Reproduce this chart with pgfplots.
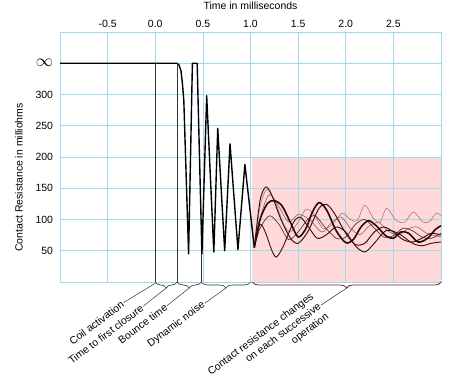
\documentclass[border=0pt]{standalone}
\usepackage{fontspec}
\setmainfont{Liberation Sans}
\usepackage{pgfplots}
\pgfplotsset{compat=1.18}
\usetikzlibrary{calc,decorations.pathreplacing}
\definecolor{gridblue}{RGB}{160,218,236}
\definecolor{pinkfill}{RGB}{255,217,217}
\definecolor{cA}{RGB}{42,6,6}
\definecolor{cB}{RGB}{70,18,18}
\definecolor{cC}{RGB}{55,14,14}
\definecolor{cD}{RGB}{176,118,118}
\definecolor{cE}{RGB}{150,92,92}
\definecolor{cF}{RGB}{105,45,45}
\definecolor{brk}{RGB}{110,35,35}
\begin{document}
\begin{tikzpicture}[font=\fontsize{10.5}{12.6}\selectfont]
\begin{axis}[name=ax, scale only axis, width=381bp, height=250bp,
  xmin=-1, xmax=3, ymin=0, ymax=400, clip=false, set layers,
  xtick={-0.5,0,0.5,1,1.5,2,2.5},
  xticklabels={-0.5,0.0,0.5,1.0,1.5,2.0,2.5},
  ytick={50,100,150,200,250,300,350},
  yticklabels={50,100,150,200,250,300,{\LARGE$\infty$}},
  xticklabel pos=upper,
  grid=major,
  major grid style={gridblue, line width=0.6pt},
  axis line style={gridblue, line width=0.6pt},
  major tick length=0pt, tick style={draw=none},
  xticklabel style={yshift=1bp},
  yticklabel style={xshift=-3.5bp},
  title={Time in milliseconds},
  title style={at={(0.5,1)}, anchor=base, yshift=17bp},
]
% pink region
\addplot[fill=pinkfill, draw=none, on layer=axis background] coordinates {(1.02,200) (3,200)} \closedcycle;

% main bounce curve
\addplot[black, line width=1.4pt, line join=round] coordinates {
(-1,350) (0.23,350) (0.25,347) (0.27,338) (0.285,318) (0.30,290) (0.35,45)
(0.39,350) (0.44,350) (0.49,45) (0.54,298) (0.615,48) (0.656,246)
(0.729,50) (0.785,221) (0.868,52) (0.941,188) (1.04,55)};

% successive-operation curves
\addplot[cD, line width=0.6pt, smooth] coordinates {
(1.04,55) (1.1,120) (1.17,148) (1.25,132) (1.35,92) (1.42,80) (1.5,96) (1.58,116)
(1.66,110) (1.76,86) (1.86,92) (1.96,110) (2.05,100) (2.12,98) (2.2,123) (2.29,102)
(2.36,96) (2.43,118) (2.53,98) (2.62,96) (2.71,112) (2.81,96) (2.88,97) (2.95,110) (3.0,106)};
\addplot[cE, line width=0.6pt, smooth] coordinates {
(1.04,55) (1.12,112) (1.2,140) (1.3,120) (1.4,96) (1.5,108) (1.62,100) (1.75,80)
(1.85,95) (1.95,104) (2.05,86) (2.15,76) (2.25,90) (2.35,95) (2.45,81) (2.55,75)
(2.65,85) (2.75,88) (2.85,78) (3.0,72)};
\addplot[cF, line width=0.7pt, smooth] coordinates {
(1.04,55) (1.1,86) (1.2,106) (1.3,92) (1.4,68) (1.5,80) (1.6,100) (1.68,106)
(1.78,88) (1.9,70) (2.0,72) (2.1,92) (2.2,100) (2.3,86) (2.4,72) (2.5,74)
(2.6,86) (2.7,82) (2.8,72) (2.9,70) (3.0,78)};
\addplot[cC, line width=0.9pt, smooth] coordinates {
(1.04,55) (1.1,92) (1.16,78) (1.22,52) (1.27,40) (1.34,56) (1.45,95) (1.52,104)
(1.6,90) (1.7,70) (1.8,76) (1.9,88) (2.0,80) (2.1,58) (2.2,48) (2.3,62)
(2.42,82) (2.55,78) (2.7,62) (2.8,58) (2.9,62) (3.0,64)};
\addplot[cB, line width=1.0pt, smooth] coordinates {
(1.04,55) (1.1,130) (1.16,152) (1.22,140) (1.32,100) (1.42,70) (1.5,62) (1.6,80)
(1.72,118) (1.8,124) (1.88,110) (2.0,78) (2.1,60) (2.2,62) (2.3,80) (2.4,88)
(2.5,80) (2.6,68) (2.7,64) (2.8,70) (2.9,78) (3.0,75)};
\addplot[cA, line width=1.6pt, smooth] coordinates {
(1.04,55) (1.1,100) (1.18,126) (1.25,130) (1.33,122) (1.42,95) (1.5,72) (1.58,85)
(1.65,112) (1.72,127) (1.8,115) (1.9,82) (2.0,63) (2.08,68) (2.16,88) (2.24,98)
(2.32,90) (2.42,74) (2.5,70) (2.58,80) (2.66,78) (2.76,64) (2.86,70) (2.94,84) (3.0,90)};

% annotation verticals
\draw[black!80, line width=0.6pt] (axis cs:0,350) -- (axis cs:0,0);
\draw[black!80, line width=0.6pt] (axis cs:0.23,350) -- (axis cs:0.23,0);
\draw[black!80, line width=0.6pt] (axis cs:0.485,45) -- (axis cs:0.485,0);

% braces
\draw[black!80, line width=0.6pt, decorate, decoration={brace, mirror, amplitude=6bp}] (axis cs:0,0) -- (axis cs:0.23,0);
\draw[black!80, line width=0.6pt, decorate, decoration={brace, mirror, amplitude=6bp}] (axis cs:0.23,0) -- (axis cs:0.485,0);
\draw[black!80, line width=0.6pt, decorate, decoration={brace, mirror, amplitude=6bp}] (axis cs:0.485,0) -- (axis cs:1.0,0);
\draw[brk, line width=0.8pt, decorate, decoration={brace, mirror, amplitude=6bp}] (axis cs:1.02,0) -- (axis cs:3.0,0);

% leader lines and labels
\draw[black!80, line width=0.5pt] (axis cs:-0.333,-33) -- (axis cs:0,-2);
\node[rotate=37, anchor=east, inner sep=1pt] at (axis cs:-0.333,-33) {Coil activation};
\draw[black!80, line width=0.5pt] (axis cs:-0.128,-39) -- (axis cs:0.115,-9.6);
\node[rotate=37, anchor=east, inner sep=1pt] at (axis cs:-0.128,-39) {Time to first closure};
\draw[black!80, line width=0.5pt] (axis cs:0.122,-38) -- (axis cs:0.357,-9.6);
\node[rotate=37, anchor=east, inner sep=1pt] at (axis cs:0.122,-38) {Bounce time};
\draw[black!80, line width=0.5pt] (axis cs:0.52,-34) -- (axis cs:0.742,-9.6);
\node[rotate=37, anchor=east, inner sep=1pt] at (axis cs:0.52,-34) {Dynamic noise};
\draw[black!80, line width=0.5pt] (axis cs:1.74,-37) -- (axis cs:2.01,-9.6);
\node[rotate=37, anchor=east, inner sep=1pt, align=right] at (axis cs:1.74,-37) {Contact resistance changes\\on each successive\\operation};
\end{axis}
% y label
\node[rotate=90] at ($(ax.south west)+(-41bp,104.5bp)$) {Contact Resistance in milliohms};
\pgfresetboundingbox
\path ($(ax.south west)+(-60bp,-95bp)$) rectangle ($(ax.north east)+(19bp,32bp)$);
\end{tikzpicture}
\end{document}
